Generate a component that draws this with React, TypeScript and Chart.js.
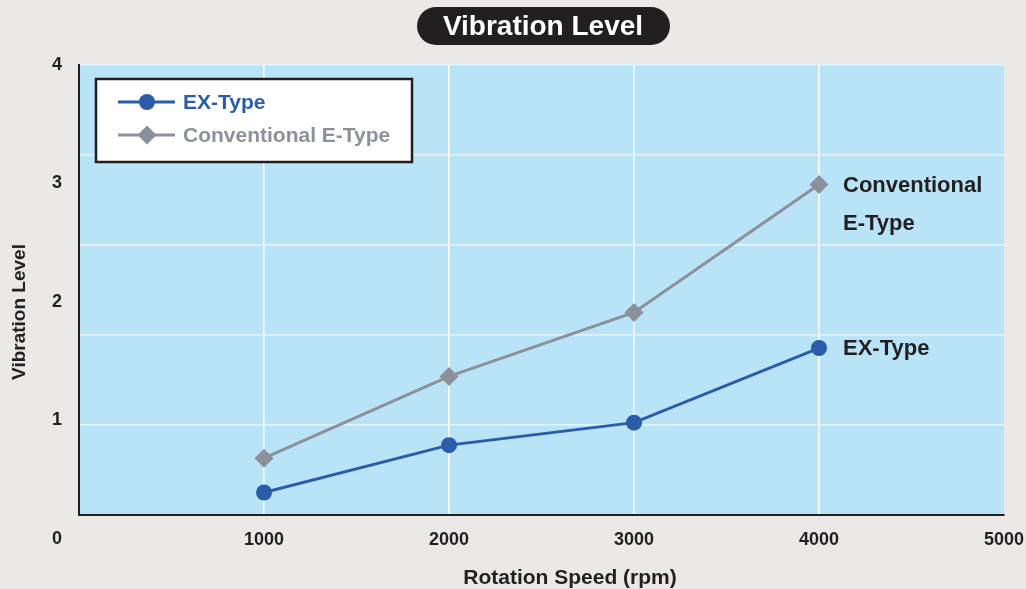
import React, { useEffect, useRef } from "react";
import { Chart, registerables } from "chart.js";

Chart.register(...registerables);

const xCategories = [1000, 2000, 3000, 4000];
const exType = [0.39, 0.79, 0.98, 1.61];
const conventionalEType = [0.68, 1.37, 1.91, 2.99];
const xTickLabels = [1000, 2000, 3000, 4000, 5000];
const yTickLabels = [1, 2, 3, 4];
const seriesNames = ["EX-Type", "Conventional E-Type"];
const chartTitle = "Vibration Level";
const yAxisTitle = "Vibration Level";
const xAxisTitle = "Rotation Speed (rpm)";

const FONT = '"Liberation Sans", Arial, sans-serif';
const DARK = "#231f20";
const BLUE = "#2a5caa";
const GREY = "#8b909b";
const PLOT_BG = "#b9e4f8";
const PAGE_BG = "#ede8e8";

function roundRectPath(ctx: CanvasRenderingContext2D, x: number, y: number, w: number, h: number, r: number) {
  ctx.beginPath();
  ctx.moveTo(x + r, y);
  ctx.lineTo(x + w - r, y);
  ctx.arc(x + w - r, y + r, r, -Math.PI / 2, Math.PI / 2);
  ctx.lineTo(x + r, y + h);
  ctx.arc(x + r, y + r, r, Math.PI / 2, (3 * Math.PI) / 2);
  ctx.closePath();
}

const decorPlugin = {
  id: "decor",
  beforeDraw(chart: any) {
    const { ctx, chartArea } = chart;
    ctx.save();
    ctx.fillStyle = PAGE_BG;
    ctx.fillRect(0, 0, chart.width, chart.height);
    ctx.fillStyle = PLOT_BG;
    ctx.fillRect(chartArea.left, chartArea.top, chartArea.right - chartArea.left, chartArea.bottom - chartArea.top);
    ctx.restore();
  },
  afterDraw(chart: any) {
    const { ctx } = chart;
    ctx.save();
    // Title pill
    roundRectPath(ctx, 417, 7, 253, 38, 19);
    ctx.fillStyle = DARK;
    ctx.fill();
    ctx.fillStyle = "#ffffff";
    ctx.font = `bold 28px ${FONT}`;
    ctx.textAlign = "center";
    ctx.textBaseline = "middle";
    ctx.fillText(chartTitle, 543, 27);

    // Axis titles
    ctx.fillStyle = DARK;
    ctx.font = `bold 21px ${FONT}`;
    ctx.fillText(xAxisTitle, 570, 578);
    ctx.save();
    ctx.translate(20, 312);
    ctx.rotate(-Math.PI / 2);
    ctx.font = `bold 19px ${FONT}`;
    ctx.fillText(yAxisTitle, 0, 0);
    ctx.restore();

    // Origin label "0"
    ctx.font = `bold 18px ${FONT}`;
    ctx.fillText("0", 57, 539);

    // Legend box
    ctx.fillStyle = "#ffffff";
    ctx.fillRect(96, 79, 316, 83);
    ctx.strokeStyle = DARK;
    ctx.lineWidth = 2.5;
    ctx.strokeRect(96, 79, 316, 83);
    const entries = [
      { name: seriesNames[0], color: BLUE, y: 102, style: "circle" },
      { name: seriesNames[1], color: GREY, y: 135, style: "diamond" },
    ];
    entries.forEach((e) => {
      ctx.strokeStyle = e.color;
      ctx.lineWidth = 3;
      ctx.beginPath();
      ctx.moveTo(118, e.y);
      ctx.lineTo(175, e.y);
      ctx.stroke();
      ctx.fillStyle = e.color;
      ctx.beginPath();
      if (e.style === "circle") {
        ctx.arc(147, e.y, 8, 0, Math.PI * 2);
      } else {
        ctx.moveTo(147 - 9.5, e.y);
        ctx.lineTo(147, e.y - 9.5);
        ctx.lineTo(147 + 9.5, e.y);
        ctx.lineTo(147, e.y + 9.5);
        ctx.closePath();
      }
      ctx.fill();
      ctx.font = `bold 21px ${FONT}`;
      ctx.textAlign = "left";
      ctx.textBaseline = "middle";
      ctx.fillText(e.name, 183, e.y + 1);
    });

    // End labels
    const metaEx = chart.getDatasetMeta(0);
    const metaConv = chart.getDatasetMeta(1);
    const lastEx = metaEx.data[metaEx.data.length - 1];
    const lastConv = metaConv.data[metaConv.data.length - 1];
    ctx.fillStyle = DARK;
    ctx.font = `bold 22px ${FONT}`;
    ctx.textAlign = "left";
    ctx.textBaseline = "middle";
    ctx.fillText("Conventional", lastConv.x + 24, lastConv.y + 1);
    ctx.fillText("E-Type", lastConv.x + 24, lastConv.y + 39);
    ctx.fillText("EX-Type", lastEx.x + 24, lastEx.y + 1);
    ctx.restore();
  },
};

export default function App() {
  const canvasRef = useRef<HTMLCanvasElement | null>(null);

  useEffect(() => {
    if (!canvasRef.current) return;
    const chart = new Chart(canvasRef.current, {
      type: "line",
      data: {
        datasets: [
          {
            label: seriesNames[0],
            data: xCategories.map((x, i) => ({ x, y: exType[i] })),
            borderColor: BLUE,
            backgroundColor: BLUE,
            borderWidth: 3,
            pointStyle: "circle",
            pointRadius: 8,
            pointBorderWidth: 0,
            pointBackgroundColor: BLUE,
            tension: 0,
          },
          {
            label: seriesNames[1],
            data: xCategories.map((x, i) => ({ x, y: conventionalEType[i] })),
            borderColor: GREY,
            backgroundColor: GREY,
            borderWidth: 3,
            pointStyle: "rectRot",
            pointRadius: 9.5,
            pointBorderWidth: 0,
            pointBackgroundColor: GREY,
            tension: 0,
          },
        ],
      },
      options: {
        animation: false,
        responsive: false,
        layout: { padding: { top: 65, right: 22, left: 0, bottom: 0 } },
        plugins: {
          legend: { display: false },
          title: { display: false },
          tooltip: { enabled: false },
        },
        scales: {
          x: {
            type: "linear",
            min: 0,
            max: 5000,
            afterBuildTicks: (scale: any) => {
              scale.ticks = xTickLabels.map((v) => ({ value: v }));
            },
            afterFit: (scale: any) => {
              scale.height = 74;
              scale.paddingLeft = 0;
              scale.paddingRight = 0;
            },
            grid: {
              color: (c: any) => (c.tick && c.tick.value === 5000 ? "rgba(0,0,0,0)" : "#ffffff"),
              lineWidth: 1.5,
              drawTicks: false,
            },
            border: { display: true, color: DARK, width: 2 },
            ticks: {
              color: DARK,
              font: { family: FONT, size: 18, weight: "bold" },
              padding: 14,
              maxRotation: 0,
              autoSkip: false,
              callback: (v: any) => String(v),
            },
          },
          y: {
            type: "linear",
            position: "left",
            min: 0.2,
            max: 4,
            afterBuildTicks: (scale: any) => {
              scale.ticks = yTickLabels.map((v) => ({ value: v }));
            },
            afterFit: (scale: any) => {
              scale.width = 79;
              scale.paddingTop = 0;
              scale.paddingBottom = 0;
            },
            grid: { display: false, drawTicks: false },
            border: { display: true, color: DARK, width: 2 },
            ticks: {
              color: DARK,
              font: { family: FONT, size: 18, weight: "bold" },
              padding: 17,
              autoSkip: false,
              callback: (v: any) => String(v),
            },
          },
          yGrid: {
            type: "linear",
            position: "left",
            min: 0,
            max: 5,
            afterFit: (scale: any) => {
              scale.width = 0;
              scale.paddingTop = 0;
              scale.paddingBottom = 0;
            },
            grid: { color: "#e4f4fc", lineWidth: 1.5, drawTicks: false },
            border: { display: false },
            ticks: { display: false, stepSize: 1 },
          },
        },
      },
      plugins: [decorPlugin],
    } as any);
    return () => chart.destroy();
  }, []);

  return (
    <div style={{ position: "fixed", left: 0, top: 0, width: 1026, height: 589, background: PAGE_BG }}>
      <canvas ref={canvasRef} width={1026} height={589} style={{ display: "block" }} />
    </div>
  );
}
